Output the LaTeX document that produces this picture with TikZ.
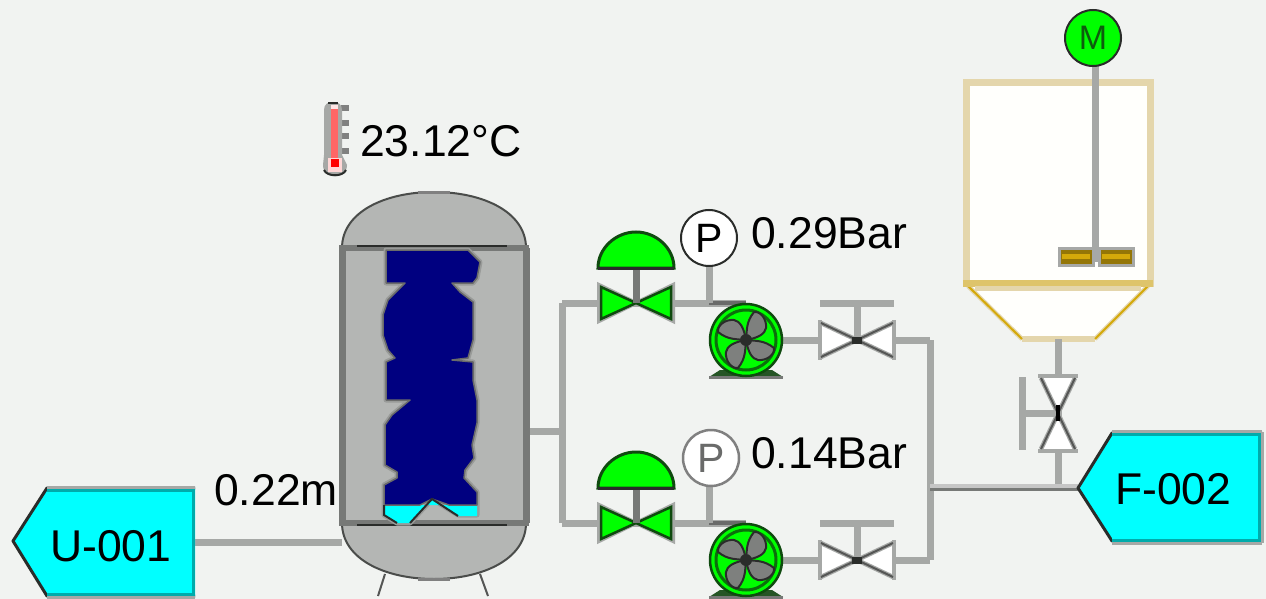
\documentclass[tikz,border=0pt]{standalone}
\usepackage{fontspec}
\setmainfont{Liberation Sans}
\definecolor{bgc}{HTML}{F1F3F1}
\definecolor{pipec}{HTML}{A6A8A6}
\definecolor{darkc}{HTML}{2A2C2A}
\definecolor{wallc}{HTML}{777977}
\definecolor{tankc}{HTML}{B4B6B4}
\definecolor{navyc}{HTML}{000080}
\definecolor{tanc}{HTML}{E4D6AC}
\definecolor{goldc}{HTML}{D4A90A}
\definecolor{greenc}{HTML}{00FF00}
\definecolor{dgreenc}{HTML}{0F4A0F}
\definecolor{tagc}{HTML}{00FFFF}
\definecolor{tealc}{HTML}{00ABAB}
\definecolor{bladec}{HTML}{7E807E}
\definecolor{vessc}{HTML}{FFFFFC}
\tikzset{
  x=1pt,y=-1pt,
  pipe/.style={draw=pipec,line width=7pt},
  lbl/.style={inner sep=0pt,anchor=base west,font=\fontsize{44.5}{44.5}\selectfont},
  blade/.style={fill=bladec,draw=darkc,line width=2pt,line join=round},
  valvebody/.style={line width=2.5pt,draw=darkc,line join=miter},
  valvehalo/.style={line width=4pt,draw=pipec,line join=miter},
  pics/ctrlvalve/.style={code={
    \draw[valvehalo,fill=greenc] (-37,-18)--(0,0)--(-37,18)--cycle;
    \draw[valvehalo,fill=greenc] (37,-18)--(0,0)--(37,18)--cycle;
    \draw[valvebody,dgreenc,fill=greenc] (-35,-16)--(0,0)--(-35,16)--cycle;
    \draw[valvebody,dgreenc,fill=greenc] (35,-16)--(0,0)--(35,16)--cycle;
    \draw[line width=7pt,draw=wallc] (0,0)--(0,-35);
    \draw[line width=3pt,draw=dgreenc,fill=greenc] (-38,-35) .. controls (-38,-55) and (-20,-71) .. (0,-71) .. controls (20,-71) and (38,-55) .. (38,-35)--cycle;
    \draw[line width=3pt,draw=darkc] (-38,-35)--(38,-35);
  }},
  pics/handvalve/.style={code={
    \draw[pipe] (-37,-37)--(37,-37);
    \draw[pipe] (0,0)--(0,-37);
    \fill[white] (-36,-18)--(0,0)--(-36,18)--cycle;
    \fill[white] (36,-18)--(0,0)--(36,18)--cycle;
    \draw[line width=4pt,draw=pipec] (-37,-20)--(-37,20) (37,-20)--(37,20);
    \draw[line width=4.5pt,draw=pipec] (-36,-17)--(36,17) (-36,17)--(36,-17);
    \draw[line width=2pt,draw=darkc!80] (-36,-17)--(36,17) (-36,17)--(36,-17);
    \fill[darkc] (-5,-3.5) rectangle (5,3.5);
  }},
  pics/pump/.style={code={
    \fill[dgreenc!80!gray] (-26,30)--(26,30)--(37,37)--(-37,37)--cycle;
    \fill[wallc] (-37,36) rectangle (37,39);
    \draw[line width=2.5pt,draw=dgreenc,fill=greenc] (0,0) circle (36);
    \draw[line width=3pt,draw=dgreenc!80!green] (0,0) circle (30);
    \foreach \a in {0,90,180,270}{
      \draw[blade,rotate=\a] (0,0) .. controls (1,-10) and (0,-18) .. (8,-28) .. controls (15,-29) and (21,-20) .. (20,-12) .. controls (19,-6) and (12,-2) .. (0,0)--cycle;
    }
    \fill[darkc] (0,0) circle (6);
  }}
}
\begin{document}
\begin{tikzpicture}
\useasboundingbox (0,0) rectangle (1266,599);
\clip (0,0) rectangle (1266,599);
\fill[bgc] (0,0) rectangle (1266,599);

% junction coordinates
\coordinate (tankL) at (342,542);
\coordinate (tankR) at (526,431);
\coordinate (j1) at (562,431);
\coordinate (j1t) at (562,303);
\coordinate (j1b) at (562,523);
\coordinate (cv1) at (636,303);
\coordinate (cv2) at (636,523);
\coordinate (pm1t) at (746,303);
\coordinate (pm2t) at (746,523);
\coordinate (pm1) at (746,340);
\coordinate (pm2) at (746,560);
\coordinate (hv1) at (857,340);
\coordinate (hv2) at (857,560);
\coordinate (c1) at (930,340);
\coordinate (c2) at (930,560);
\coordinate (j2) at (930,488);
\coordinate (j3) at (1058,488);
\coordinate (fv) at (1058,413);
\coordinate (hopb) at (1058,339);
\coordinate (tagU) at (195,542);
\coordinate (tagF) at (1078,488);
\coordinate (pg1b) at (709,303);
\coordinate (pg2b) at (709,523);
\coordinate (shtop) at (1095,60);
\coordinate (shbot) at (1095,262);

% pipes
\draw[pipe] (tagU)--(tankL);
\draw[pipe] (tankR)--(j1);
\draw[pipe] (j1t)--(j1b);
\draw[pipe] (j1t)--(cv1)--(pm1t);
\draw[pipe] (j1b)--(cv2)--(pm2t);
\draw[pipe] (pm1)--(hv1)--(c1);
\draw[pipe] (pm2)--(hv2)--(c2);
\draw[pipe] (c1)--(c2);
\draw[pipe] (hopb)--(fv)--(j3);
\draw[line width=3.5pt,draw=gray!45] ([yshift=2pt]j2)--([yshift=2pt]tagF);
\draw[line width=3.5pt,draw=wallc] ([yshift=-1.5pt]j2)--([yshift=-1.5pt]tagF);
\draw[line width=4pt,draw=darkc!70] (pg1b)--(pm1t);
\draw[line width=4pt,draw=darkc!70] (pg2b)--(pm2t);

% tank
\draw[line width=2pt,draw=darkc!80] (385,574)--(378,596) (480,574)--(488,596);
\draw[line width=2pt,draw=darkc!85,fill=tankc] (342,248) .. controls (342,212) and (385,192) .. (434,192) .. controls (483,192) and (526,212) .. (526,248)--(526,523) .. controls (526,559) and (483,579) .. (434,579) .. controls (385,579) and (342,559) .. (342,523)--cycle;
\draw[line width=3pt,draw=gray] (418,192)--(450,192) (418,579)--(450,579);
\draw[line width=7pt,draw=wallc] (342,248)--(342,523) (526,248)--(526,523);
\draw[line width=6pt,draw=wallc] (339,248)--(529,248) (339,523)--(529,523);
\draw[line width=2.5pt,draw=darkc] (357,246)--(507,246) (357,525)--(507,525);

% level gauge contents
\draw[line width=5pt,draw=wallc!45!tankc,line join=round]
 (386,250)--(468,250)--(480,262)--(477,278)--(473,283)--(452,283)--(460,292)--(473,302)--(473,340)--(468,358)--(452,360)--(473,362)--(473,380)--(477,400)--(477,423)--(472,445)--(474,458)--(465,470)--(464,478)--(477,492)--(477,515)--(458,515)--(432,499)--(410,523)--(397,523)--(384,515)--(384,485)--(397,478)--(397,472)--(385,465)--(385,425)--(392,415)--(410,400)--(386,400)--(386,362)--(395,358)--(388,350)--(383,335)--(383,315)--(388,300)--(405,283)--(386,283)--cycle;
\fill[tagc] (384,505)--(477,505)--(477,516)--(458,516)--(432,499)--(410,523)--(397,523)--(384,515)--cycle;
\draw[line width=1.5pt,draw=darkc!70,fill=navyc,line join=round]
 (386,250)--(468,250)--(480,262)--(477,278)--(473,283)--(452,283)--(460,292)--(473,302)--(473,340)--(468,358)--(452,360)--(473,362)--(473,380)--(477,400)--(477,423)--(472,445)--(474,458)--(465,470)--(464,478)--(477,492)--(477,505)--(449,505)--(432,499)--(420,505)--(384,505)--(384,485)--(397,478)--(397,472)--(385,465)--(385,425)--(392,415)--(410,400)--(386,400)--(386,362)--(395,358)--(388,350)--(383,335)--(383,315)--(388,300)--(405,283)--(386,283)--cycle;
\draw[line width=2pt,draw=darkc] (384,505)--(384,515)--(397,523) (410,523)--(432,499)--(458,516);

% thermometer
\foreach \yy in {105,120,133,148}{\fill[gray] (341,\yy) rectangle (349,\yy+6);}
\fill[pipec] (324,110) .. controls (324,104) and (328,102) .. (333,102) .. controls (338,102) and (342,104) .. (342,110)--(342,155)--(347,165) .. controls (347,180) and (323,180) .. (323,165)--(324,155)--cycle;
\draw[line width=2pt,draw=darkc] (328,103.5)--(338,103.5);
\draw[line width=2pt,draw=darkc] (324,170) .. controls (327,177) and (343,177) .. (346,170);
\fill[white!40!red] (331,108) rectangle (338,158);
\fill[white!60!red!40!white] (328,158) rectangle (342,172);
\fill[white!90!red] (331,105) rectangle (338,109);
\fill[red] (331,159) rectangle (339,167);

\node[lbl] (tempv) at (360,157) {23.12°C};
\node[lbl] (lev) at (214,505) {0.22m};
\node[lbl] (p1v) at (751,248) {0.29Bar};
\node[lbl] (p2v) at (751,468) {0.14Bar};

% valves and pumps
\pic at (cv1) {ctrlvalve};
\pic at (cv2) {ctrlvalve};
\pic at (pm1) {pump};
\pic at (pm2) {pump};
\pic at (hv1) {handvalve};
\pic at (hv2) {handvalve};

% pressure gauges
\draw[pipe] (pg1b)--(709,264);
\draw[pipe] (pg2b)--(709,484);
\node[circle,minimum size=56pt,inner sep=0pt,draw=darkc,line width=2pt,fill=white,font=\fontsize{41}{41}\selectfont] (pg1) at (709,238) {P};
\node[circle,minimum size=56pt,inner sep=0pt,draw=gray,line width=2.5pt,fill=white,text=darkc!70,font=\fontsize{41}{41}\selectfont] (pg2) at (711,458) {P};

% vertical hand valve
\draw[pipe] (1022,377)--(1022,450);
\draw[pipe] (1022,413)--(fv);
\fill[white] (1039,376)--(1077,376)--(1058,413)--cycle;
\fill[white] (1039,451)--(1077,451)--(1058,413)--cycle;
\draw[line width=4pt,draw=pipec] (1038,376)--(1078,376) (1038,451)--(1078,451);
\draw[line width=4.5pt,draw=pipec] (1041,378)--(1075,449) (1075,378)--(1041,449);
\draw[line width=2pt,draw=darkc!80] (1041,378)--(1075,449) (1075,378)--(1041,449);
\fill[black] (1056,405) rectangle (1060,421);

% mixer
\fill[vessc] (968,285)--(1022,339)--(1095,339)--(1148,285)--cycle;
\draw[line width=6pt,draw=tanc] (1022,339)--(1095,339);
\draw[line width=4.5pt,draw=tanc] (968,286)--(1022,339) (1095,339)--(1148,286);
\draw[line width=2pt,draw=goldc] (966,284)--(1022,339) (1095,339)--(1150,284);
\draw[line width=7pt,draw=tanc,fill=vessc] (966,83) rectangle (1150,283);
\draw[line width=7pt,draw=tanc!60!goldc] (963,283)--(1153,283);
\draw[line width=5pt,draw=tanc] (975,288)--(1141,288);
\draw[pipe] (1058,339)--(1058,346);
\draw[line width=7pt,draw=pipec] (shtop)--(shbot);
\foreach \xa/\xb in {1059/1093,1099/1133}{
  \draw[line width=3pt,draw=pipec,fill=goldc!70!black] (\xa,248) rectangle (\xb,265);
  \fill[goldc] (\xa+3,254) rectangle (\xb-3,259);
}
\node[circle,minimum size=56pt,inner sep=0pt,draw=darkc,line width=2pt,fill=greenc,text=dgreenc!90!green,font=\fontsize{34}{34}\selectfont] (mot) at (1093,38) {M};

% tags
\draw[line width=3pt,draw=darkc,fill=tagc,line join=round] (195,488)--(47,488)--(13,541)--(47,596)--(195,596);
\fill[tagc] (47,489) rectangle (195,595);
\draw[line width=3pt,draw=pipec] (47,487)--(195,487) (47,597)--(195,597);
\draw[line width=3pt,draw=tealc] (47,490)--(193,490)--(193,594)--(47,594);
\node[inner sep=0pt,anchor=base west,font=\fontsize{44.5}{44.5}\selectfont] (uname) at (50,561) {U-001};

\draw[line width=3pt,draw=darkc,fill=tagc,line join=round] (1262,433)--(1112,433)--(1078,488)--(1112,541)--(1262,541);
\fill[tagc] (1112,434) rectangle (1262,540);
\draw[line width=3pt,draw=pipec] (1112,431)--(1262,431) (1112,543)--(1262,543);
\draw[line width=3pt,draw=tealc] (1112,434)--(1259,434)--(1259,540)--(1112,540);
\draw[line width=3pt,draw=pipec] (1262,432)--(1262,543);
\node[inner sep=0pt,anchor=base west,font=\fontsize{44.5}{44.5}\selectfont] (fname) at (1115,504) {F-002};
\end{tikzpicture}
\end{document}
